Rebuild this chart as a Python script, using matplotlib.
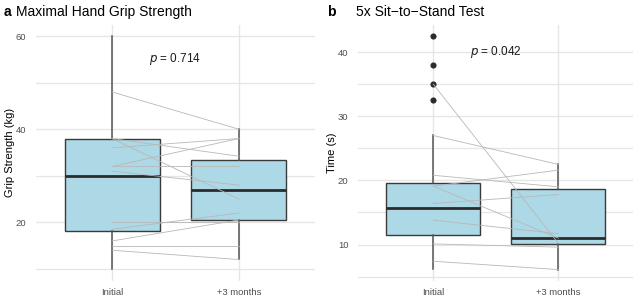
import matplotlib
matplotlib.use("Agg")
import matplotlib.pyplot as plt
from matplotlib.ticker import MultipleLocator

plt.rcParams['font.family'] = ['Liberation Sans', 'DejaVu Sans']

groups = ["Initial", "+3 months"]

# Panel a: Maximal Hand Grip Strength (kg) - box statistics
grip_q1 = [18.1, 20.6]
grip_med = [30.0, 27.0]
grip_q3 = [38.0, 33.4]
grip_lo = [10.0, 12.1]
grip_hi = [60.0, 40.0]
grip_fliers = [[], []]
grip_pair_initial = [48, 38, 38, 36, 32, 32, 31, 20, 18.5, 16, 15, 14]
grip_pair_3mo = [40, 25, 34.2, 38, 38, 32, 28, 20, 22, 20.5, 15, 12]

# Panel b: 5x Sit-to-Stand Test (s)
sts_q1 = [11.45, 10.15]
sts_med = [15.7, 11.1]
sts_q3 = [19.6, 18.6]
sts_lo = [6.2, 6.1]
sts_hi = [27.0, 22.5]
sts_fliers = [[42.5, 38.0, 35.0, 32.6], []]
sts_pair_initial = [35, 27, 20.8, 19.1, 19.1, 16.4, 13.8, 10.1, 7.4]
sts_pair_3mo = [10.2, 22.5, 19.0, 21.6, 11.0, 17.8, 11.7, 9.6, 6.1]

W, H = 641, 300
fig = plt.figure(figsize=(W / 100, H / 100), dpi=100)

def px_axes(x0, x1, y0, y1):
    return fig.add_axes([x0 / W, 1 - y1 / H, (x1 - x0) / W, (y1 - y0) / H])

ax_a = px_axes(36, 315, 24.5, 280.5)
ax_b = px_axes(358.3, 633.3, 24.5, 280.5)

def panel(ax, q1, med, q3, lo, hi, fliers, p_init, p_3mo, ylim, major, minor, ylabel,
          ptext, py, label_x):
    stats = []
    for i in range(2):
        stats.append(dict(q1=q1[i], med=med[i], q3=q3[i], whislo=lo[i], whishi=hi[i],
                          fliers=fliers[i], label=groups[i]))
    ax.bxp(stats, positions=[1, 2], widths=0.75, patch_artist=True, showcaps=False,
           boxprops=dict(facecolor='#ADD8E6', edgecolor='#3a3a3a', linewidth=1.0),
           medianprops=dict(color='#2b2b2b', linewidth=2.0),
           whiskerprops=dict(color='#555555', linewidth=1.1),
           flierprops=dict(marker='o', markerfacecolor='#2b2b2b', markeredgecolor='#2b2b2b',
                           markersize=3.4),
           zorder=2)
    for a, b in zip(p_init, p_3mo):
        ax.plot([1, 2], [a, b], color='#b8b8b8', linewidth=0.6, zorder=3)
    ax.set_xlim(0.4, 2.6)
    ax.set_ylim(*ylim)
    ax.yaxis.set_major_locator(MultipleLocator(major))
    ax.yaxis.set_minor_locator(MultipleLocator(minor))
    ax.grid(True, which='major', color='#e6e6e6', linewidth=1.0, zorder=0)
    ax.grid(True, which='minor', axis='y', color='#e6e6e6', linewidth=0.9, zorder=0)
    ax.set_axisbelow(True)
    for s in ax.spines.values():
        s.set_visible(False)
    ax.tick_params(axis='both', which='both', length=0, labelsize=6.8, colors='#4d4d4d')
    ax.tick_params(axis='y', pad=7)
    ax.tick_params(axis='x', pad=5.5)
    ax.set_xticks([1, 2])
    ax.set_xticklabels(groups)
    ax.set_ylabel(ylabel, fontsize=8, color='black', va='center')
    ax.yaxis.set_label_coords(label_x, 0.5)
    ax.text(1.5, py, r'$\it{p}$ = ' + ptext, ha='center', va='center', fontsize=8.5,
            color='#1a1a1a', zorder=4)

panel(ax_a, grip_q1, grip_med, grip_q3, grip_lo, grip_hi, grip_fliers,
      grip_pair_initial, grip_pair_3mo, (7.5, 62.5), 20, 10, 'Grip Strength (kg)', '0.714', 55,
      (10 - 36) / 279)
panel(ax_b, sts_q1, sts_med, sts_q3, sts_lo, sts_hi, sts_fliers,
      sts_pair_initial, sts_pair_3mo, (4.4, 44.3), 10, 5, 'Time (s)', '0.042', 40,
      (331.5 - 358.3) / 275)

fig.text(4 / W, 1 - 12 / H, 'a', fontsize=10, fontweight='bold', va='center', ha='left')
fig.text(16.5 / W, 1 - 12 / H, 'Maximal Hand Grip Strength', fontsize=10, va='center', ha='left')
fig.text(327 / W, 1 - 12 / H, 'b', fontsize=10, fontweight='bold', va='center', ha='left')
fig.text(356 / W, 1 - 12 / H, '5x Sit\u2212to\u2212Stand Test', fontsize=10, va='center', ha='left')

fig.savefig('out.png', dpi=100, facecolor='white')
